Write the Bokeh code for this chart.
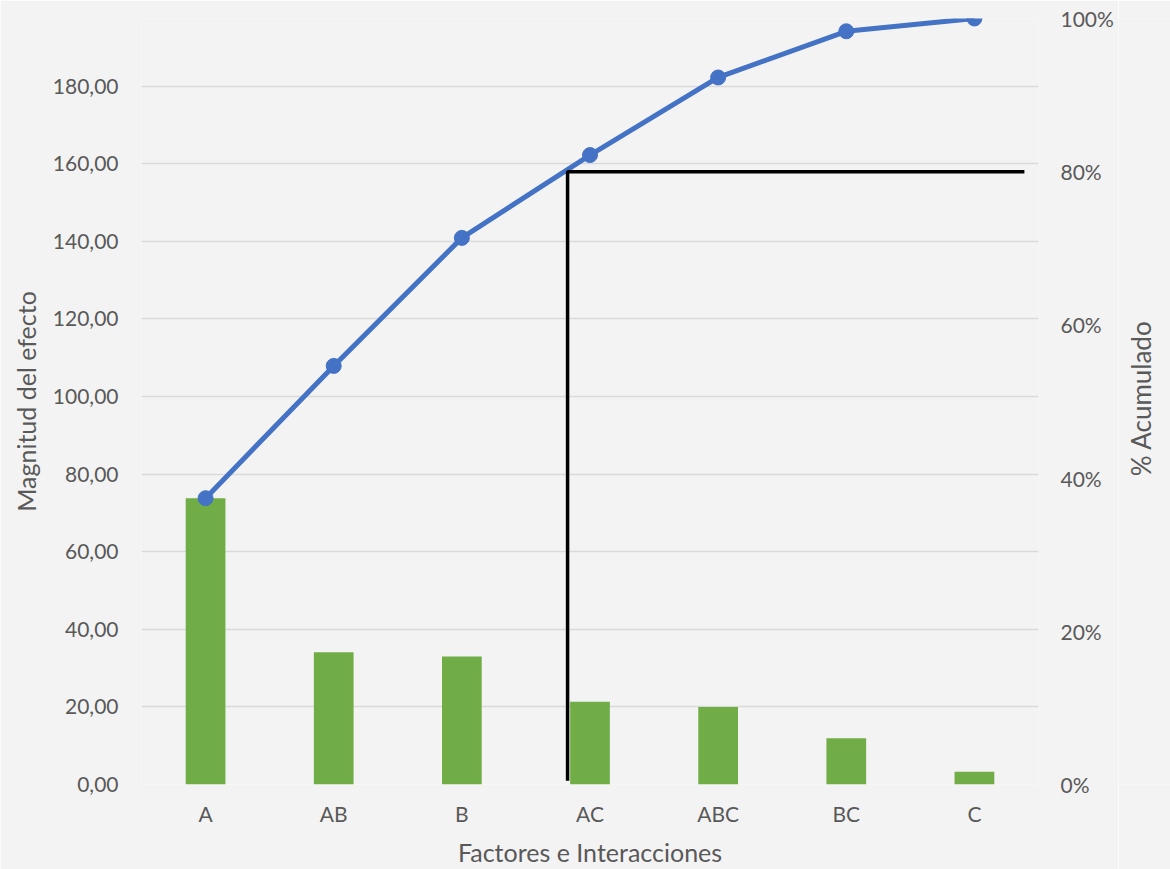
import math
from bokeh.plotting import figure
from bokeh.layouts import row
from bokeh.models import (FactorRange, Range1d, LinearAxis, FixedTicker,
                          CustomJSTickFormatter, NumeralTickFormatter)
from bokeh.core.properties import value
from bokeh.embed import file_html
from bokeh.resources import INLINE

# Pareto data: effect magnitude per factor / interaction
factors = ["A", "AB", "B", "AC", "ABC", "BC", "C"]
effects = [73.8, 34.1, 33.0, 21.35, 20.0, 11.9, 3.3]
left_ticks = [0, 20, 40, 60, 80, 100, 120, 140, 160, 180]
right_ticks = [0.0, 0.2, 0.4, 0.6, 0.8, 1.0]
threshold = 0.80  # 80 % reference line

total = sum(effects)
cum_pct = []
running = 0.0
for v in effects:
    running += v
    cum_pct.append(running / total)

FONT = "Lato"
TEXT = "#595959"
GRID = "#d9d9d9"
BG = "#f3f3f3"

MAIN_W, SIDE_W, H = 1118, 52, 869
TOP, BOTTOM = 18, 85

p = figure(x_range=FactorRange(factors=factors, range_padding=0),
           y_range=Range1d(0, total),
           width=MAIN_W, height=H,
           min_border_left=141, min_border_right=80,
           min_border_top=TOP, min_border_bottom=BOTTOM,
           output_backend="svg", toolbar_location=None)
p.extra_y_ranges = {"pct": Range1d(0, 1)}

p.background_fill_color = BG
p.border_fill_color = BG
p.outline_line_color = None

p.xgrid.grid_line_color = None
p.ygrid.grid_line_color = GRID
p.ygrid.grid_line_width = 1.5
p.ygrid.ticker = FixedTicker(ticks=left_ticks)

# bars
p.vbar(x=factors, top=effects, width=0.31, color="#70AD47", line_color=None)

# cumulative percentage line
p.line(x=factors, y=cum_pct, y_range_name="pct", line_color="#4472C4", line_width=5)
p.scatter(x=factors, y=cum_pct, y_range_name="pct", size=15,
          fill_color="#4472C4", line_color="#4472C4")

# 80 % cut-off guide
p.line(x=[("AC", -0.175), ("AC", -0.175), ("C", 0.39)],
       y=[0.005, threshold, threshold], y_range_name="pct",
       line_color="black", line_width=3.5)

# axes
left = p.yaxis[0]
left.ticker = FixedTicker(ticks=left_ticks)
left.formatter = CustomJSTickFormatter(code="return tick.toFixed(2).replace('.', ',');")
left.axis_label = "Magnitud del efecto"

right = LinearAxis(y_range_name="pct", ticker=FixedTicker(ticks=right_ticks),
                   formatter=NumeralTickFormatter(format="0%"))
p.add_layout(right, "right")

p.xaxis.axis_label = "Factores e Interacciones"

for ax in [left, right, p.xaxis[0]]:
    ax.axis_line_color = None
    ax.major_tick_line_color = None
    ax.minor_tick_line_color = None
    ax.major_tick_out = 0
    ax.major_tick_in = 0
    ax.major_label_text_font = FONT
    ax.major_label_text_font_size = "21px"
    ax.major_label_text_color = TEXT
    ax.axis_label_text_font = FONT
    ax.axis_label_text_font_size = "25px"
    ax.axis_label_text_font_style = "normal"
    ax.axis_label_text_color = TEXT

left.major_label_standoff = 23
left.axis_label_standoff = 9
right.major_label_standoff = 22
p.xaxis.major_label_standoff = 16
p.xaxis.axis_label_standoff = 8

# narrow strip holding the secondary-axis title (reads bottom-to-top)
side = figure(width=SIDE_W, height=H, x_range=Range1d(0, SIDE_W),
              y_range=Range1d(H, 0), min_border=0,
              x_axis_type=None, y_axis_type=None,
              output_backend="svg", toolbar_location=None)
side.background_fill_color = BG
side.border_fill_color = BG
side.outline_line_color = None
side.grid.grid_line_color = None
title_y = TOP + (H - TOP - BOTTOM) / 2 + 30
side.text(x=[22], y=[title_y], text=["% Acumulado"], angle=math.pi / 2,
          text_align="center", text_baseline="middle",
          text_font=value(FONT), text_font_size="26px", text_color=TEXT)

layout = row(p, side, spacing=0)
open("out.html", "w").write(file_html(layout, INLINE))
